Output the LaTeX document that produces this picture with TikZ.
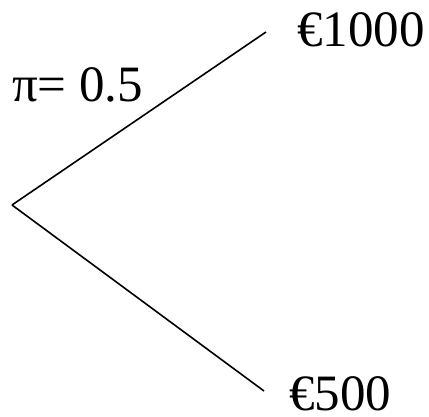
\documentclass[tikz,border=0pt]{standalone}
\usepackage{fontspec}
\setmainfont{Liberation Serif}
\begin{document}
\begin{tikzpicture}[x=1pt,y=-1pt,
  lbl/.style={inner sep=0pt,anchor=base west,font=\fontsize{51}{60}\selectfont},
  branch/.style={line width=1.6pt}]
\useasboundingbox (0,0) rectangle (429,417);
\coordinate (root) at (12,205);
\coordinate (up) at (266,32);
\coordinate (down) at (264,391);
\draw[branch] (root) -- (up);
\draw[branch] (root) -- (down);
\node[lbl] (hi) at (297,47) {€1000};
\node[lbl] (lo) at (289,410) {€500};
\node[lbl] (pi) at (12,102) {π= 0.5};
\end{tikzpicture}
\end{document}
